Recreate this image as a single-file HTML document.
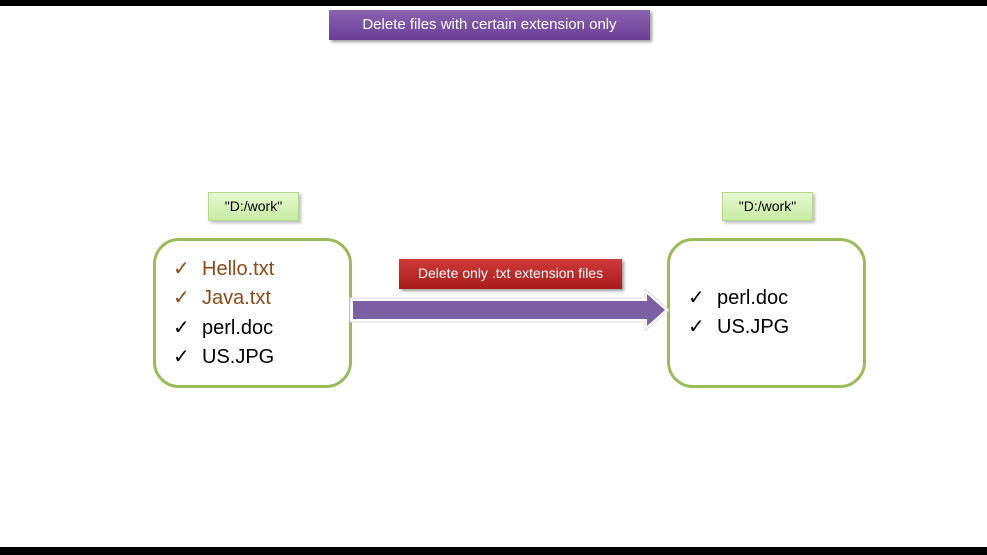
<!DOCTYPE html>
<html><head><style>
body{margin:0;width:987px;height:555px;background:#fff;position:relative;overflow:hidden;font-family:"Liberation Sans",sans-serif}
.a{position:absolute}
.lbl{background:linear-gradient(#e4f8d0,#c8eca4);border:1px solid #b5d88f;box-shadow:2px 2px 3px #bbb;font-size:14px;text-align:center;line-height:26px;color:#000}
.box{border:3px solid #9bbb59;border-radius:26px;background:#fff}
.it{font-size:20px;line-height:20px;white-space:nowrap}
.it span{display:inline-block;width:29px}
</style></head><body>
<div class="a" style="left:0;top:0;width:987px;height:6px;background:#000"></div>
<div class="a" style="left:0;top:547px;width:987px;height:8px;background:#000"></div>
<div class="a" style="left:329px;top:10px;width:321px;height:30px;background:linear-gradient(#8a62b0,#6a3f96);box-shadow:2px 2px 3px #999;color:#fff;font-size:15px;line-height:30px;text-align:center">Delete files with certain extension only</div>
<div class="a lbl" style="left:208px;top:192px;width:89px;height:27px">"D:/work"</div>
<div class="a lbl" style="left:722px;top:192px;width:89px;height:27px">"D:/work"</div>
<div class="a box" style="left:153px;top:238px;width:193px;height:144px"></div>
<div class="a box" style="left:667px;top:238px;width:193px;height:144px"></div>
<div class="a it" style="left:173px;top:259px;color:#8b4a17"><span>✓</span>Hello.txt</div>
<div class="a it" style="left:173px;top:288px;color:#8b4a17"><span>✓</span>Java.txt</div>
<div class="a it" style="left:173px;top:318px"><span>✓</span>perl.doc</div>
<div class="a it" style="left:173px;top:347px"><span>✓</span>US.JPG</div>
<div class="a it" style="left:688px;top:288px"><span>✓</span>perl.doc</div>
<div class="a it" style="left:688px;top:317px"><span>✓</span>US.JPG</div>
<div class="a" style="left:399px;top:259px;width:223px;height:30px;background:linear-gradient(#d03a3a,#a81c1c);box-shadow:2px 2px 3px #999;color:#fff;font-size:14px;line-height:28px;text-align:center">Delete only .txt extension files</div>
<svg class="a" style="left:345px;top:286px" width="330" height="50">
<polygon points="5,12 300,12 300,3 324,24 300,45 300,36 5,36" fill="#fff" stroke="#ddd" stroke-width="1"/>
<polygon points="8,15 302,15 302,8 320,24 302,40 302,33 8,33" fill="#7d5fa3"/>
</svg>
</body></html>
